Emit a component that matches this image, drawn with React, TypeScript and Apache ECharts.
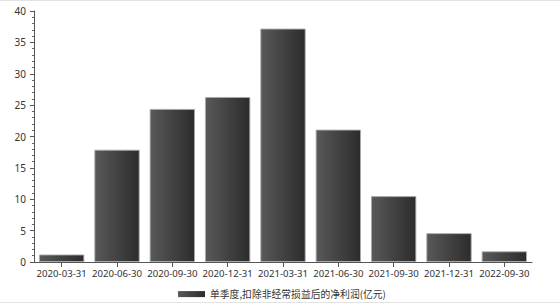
import React, { useEffect, useRef } from "react";
import * as echarts from "echarts";

const categories = [
  "2020-03-31",
  "2020-06-30",
  "2020-09-30",
  "2020-12-31",
  "2021-03-31",
  "2021-06-30",
  "2021-09-30",
  "2021-12-31",
  "2022-09-30",
];
const seriesName = "单季度,扣除非经常损益后的净利润(亿元)";
const values = [1.2, 17.9, 24.4, 26.3, 37.2, 21.1, 10.5, 4.6, 1.7];
const yMax = 40;
const yInterval = 5;

export default function App() {
  const ref = useRef<HTMLDivElement>(null);
  useEffect(() => {
    document.body.style.margin = "0";
    if (!ref.current) return;
    const chart = echarts.init(ref.current, null, { renderer: "svg" });
    const font = "'Noto Sans', 'Noto Sans CJK SC', sans-serif";
    chart.setOption({
      animation: false,
      textStyle: { fontFamily: font },
      grid: { left: 34, right: 28, top: 11, bottom: 42, containLabel: false },
      legend: {
        show: true,
        bottom: 0,
        left: 173,
        icon: "rect",
        itemWidth: 27,
        itemHeight: 6,
        itemGap: 8,
        itemStyle: { borderWidth: 0 },
        textStyle: { fontSize: 9.8, color: "#333", fontFamily: "'Noto Sans CJK SC', sans-serif" },
        data: [seriesName],
      },
      graphic: [
        { type: "line", shape: { x1: 0, y1: 0.5, x2: 560, y2: 0.5 }, style: { stroke: "#e2e2e2", lineWidth: 1 } },
        { type: "line", shape: { x1: 0, y1: 302.5, x2: 560, y2: 302.5 }, style: { stroke: "#e2e2e2", lineWidth: 1 } },
      ],
      xAxis: {
        type: "category",
        data: categories,
        axisLine: { show: true, lineStyle: { color: "#555" } },
        axisTick: { show: true, alignWithLabel: true, lineStyle: { color: "#555" } },
        axisLabel: { fontSize: 9.6, color: "#333", margin: 7, interval: 0 },
        splitLine: { show: false },
      },
      yAxis: {
        type: "value",
        min: 0,
        max: yMax,
        interval: yInterval,
        axisLine: { show: true, lineStyle: { color: "#555" } },
        axisTick: { show: true, length: 4, lineStyle: { color: "#555" } },
        minorTick: { show: true, splitNumber: 5, length: 2, lineStyle: { color: "#666" } },
        axisLabel: { fontSize: 10, color: "#333", margin: 8 },
        splitLine: { show: false },
      },
      series: [
        {
          name: seriesName,
          type: "bar",
          data: values,
          barCategoryGap: "18%",
          itemStyle: {
            color: new echarts.graphic.LinearGradient(0, 0, 1, 0, [
              { offset: 0, color: "#595959" },
              { offset: 1, color: "#2c2c2c" },
            ]),
            borderColor: "rgba(170,170,170,0.9)",
            borderWidth: 1,
          },
        },
      ],
    });
    return () => chart.dispose();
  }, []);
  return <div ref={ref} style={{ width: 560, height: 304 }} />;
}
